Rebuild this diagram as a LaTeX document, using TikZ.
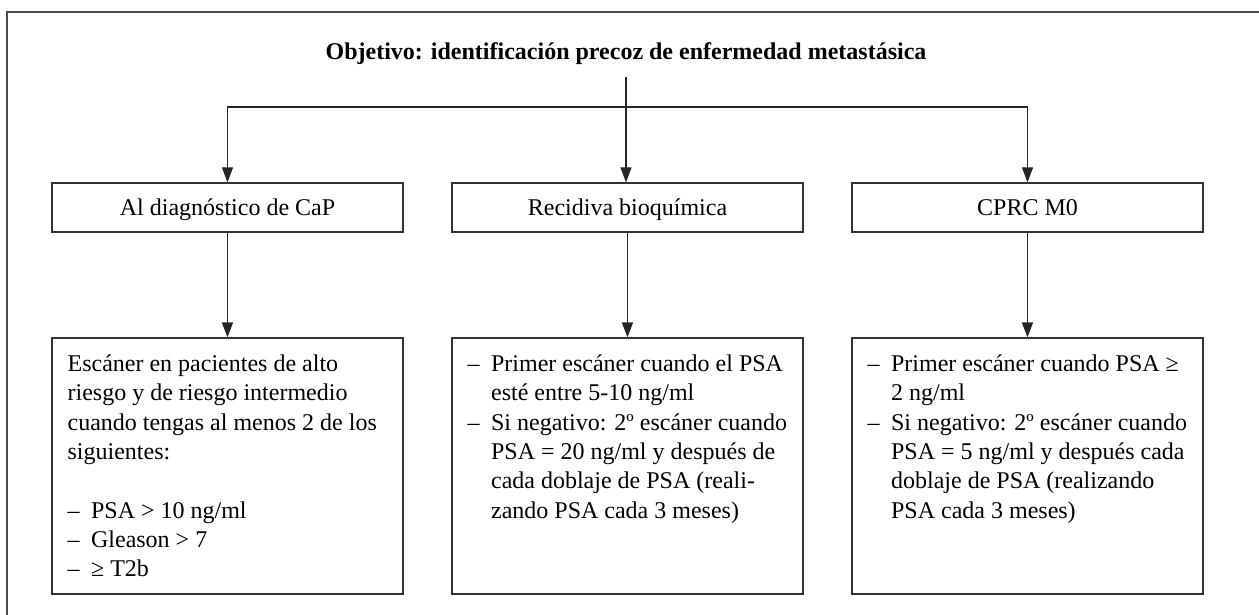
\documentclass[tikz,border=0pt]{standalone}
\usepackage{fontspec}
\setmainfont{Liberation Serif}
\usetikzlibrary{arrows.meta,calc}
\newcommand{\dsh}{\makebox[23.5pt][l]{–}}
\newcommand{\ind}{\hspace*{23.5pt}}
\newcommand{\fst}{\rule{0pt}{20pt}}
\begin{document}
\begin{tikzpicture}[x=1pt,y=-1pt,
  box/.style={draw=black!80, line width=1.2pt, minimum width=351pt, inner sep=0pt},
  hbox/.style={box, minimum height=49pt, text height=18pt, text depth=3pt, font=\fontsize{24}{29.3}\selectfont},
  arr/.style={draw=black!85, line width=1.2pt, -{Triangle[length=15pt,width=11pt]}},
  txt/.style={font=\fontsize{24}{29.3}\selectfont, inner sep=0pt, align=left, anchor=north west}]
\useasboundingbox (0,0) rectangle (1259,615);
\draw[black!70, line width=1.6pt] (7,615) -- (7,12) -- (1259,12);
\node[font=\bfseries\fontsize{24}{29}\selectfont, anchor=base, inner xsep=0pt, inner ysep=12pt] (title) at (626,60) {Objetivo: identificación precoz de enfermedad metastásica};
\node[hbox] (b1) at (227.5,207.5) {Al diagnóstico de CaP};
\node[hbox] (b2) at (627.5,207.5) {Recidiva bioquímica};
\node[hbox] (b3) at (1027.5,207.5) {CPRC M0};
\node[box, minimum height=256pt] (c1) at (227.5,466) {};
\node[box, minimum height=256pt] (c2) at (627.5,466) {};
\node[box, minimum height=256pt] (c3) at (1027.5,466) {};
\coordinate (j) at (title.south |- 0,107);
\draw[arr] (title.south) -- (title.south |- b2.north);
\draw[arr] (j) -| (b1.north);
\draw[arr] (j) -| (b3.north);
\draw[arr] (b1.south) -- (c1.north);
\draw[arr] (b2.south) -- (c2.north);
\draw[arr] (b3.south) -- (c3.north);
\node[txt] (t1) at ($(c1.north west)+(16,14)$) {\fst Escáner en pacientes de alto\\
riesgo y de riesgo intermedio\\
cuando tengas al menos 2 de los\\
siguientes:\\[29.3pt]
\dsh PSA > 10 ng/ml\\
\dsh Gleason > 7\\
\dsh ≥ T2b};
\node[txt] (t2) at ($(c2.north west)+(16,14)$) {\fst\dsh Primer escáner cuando el PSA\\
\ind esté entre 5-10 ng/ml\\
\dsh Si negativo: 2º escáner cuando\\
\ind PSA = 20 ng/ml y después de\\
\ind cada doblaje de PSA (reali-\\
\ind zando PSA cada 3 meses)};
\node[txt] (t3) at ($(c3.north west)+(16,14)$) {\fst\dsh Primer escáner cuando PSA ≥\\
\ind 2 ng/ml\\
\dsh Si negativo: 2º escáner cuando\\
\ind PSA = 5 ng/ml y después cada\\
\ind doblaje de PSA (realizando\\
\ind PSA cada 3 meses)};
\end{tikzpicture}
\end{document}
